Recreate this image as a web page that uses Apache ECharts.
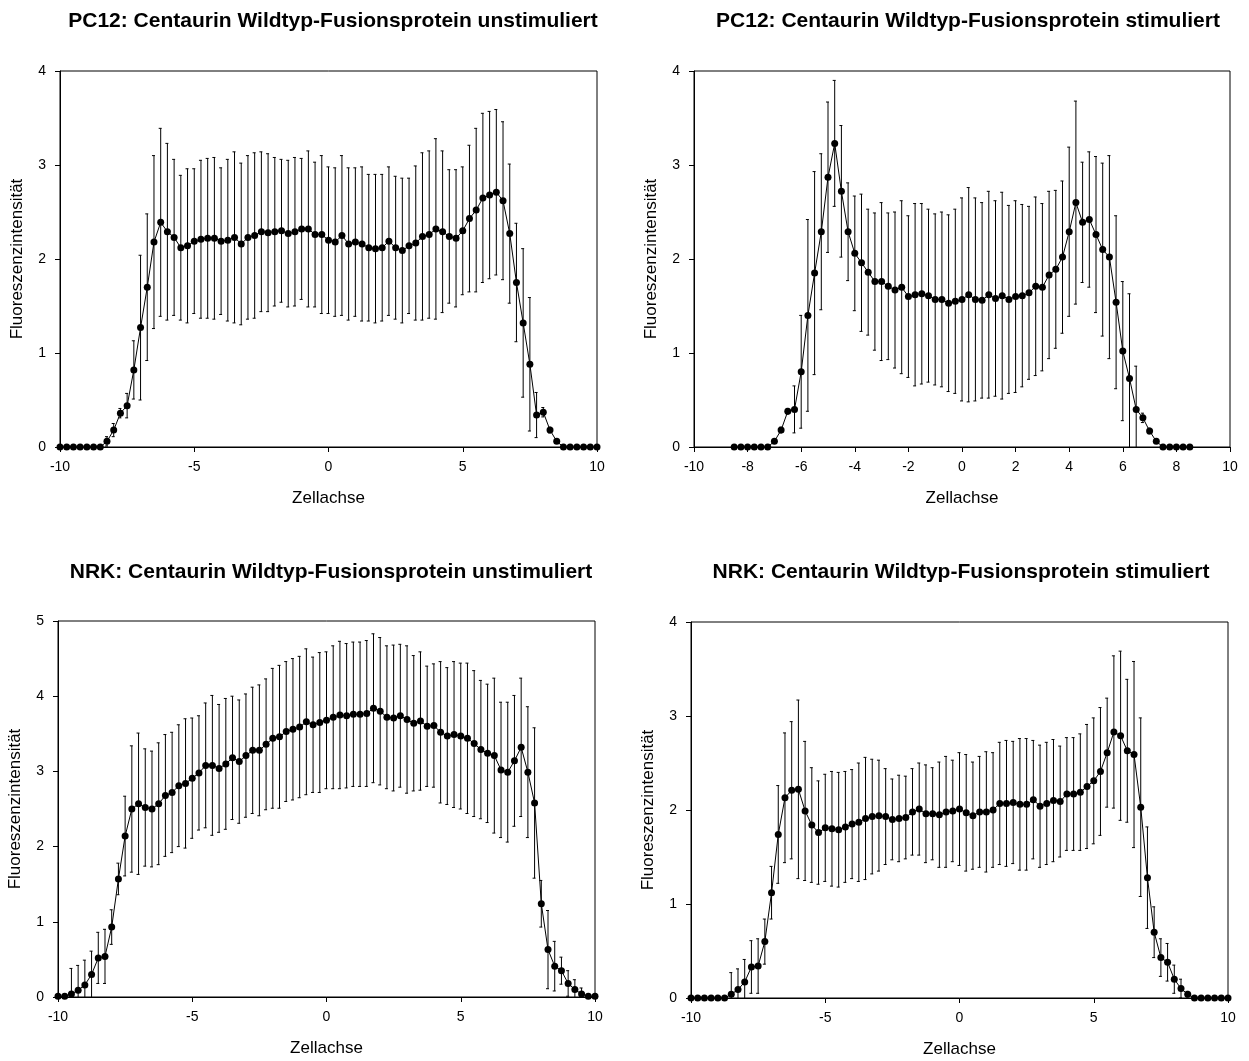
<!DOCTYPE html>
<html>
<head>
<meta charset="utf-8">
<script src="https://cdn.jsdelivr.net/npm/echarts@6/dist/echarts.min.js"></script>
<style>
html,body{margin:0;padding:0;background:#fff;}
#chart{width:1249px;height:1061px;}
</style>
</head>
<body>
<div id="chart"></div>
<script>
// ---------- DATA ----------
const titles = [
  "PC12: Centaurin Wildtyp-Fusionsprotein unstimuliert",
  "PC12: Centaurin Wildtyp-Fusionsprotein stimuliert",
  "NRK: Centaurin Wildtyp-Fusionsprotein unstimuliert",
  "NRK: Centaurin Wildtyp-Fusionsprotein stimuliert"
];
const xAxisName = "Zellachse";
const yAxisName = "Fluoreszenzintensität";

// x positions (Zellachse)
const xFull = [-10,-9.75,-9.5,-9.25,-9,-8.75,-8.5,-8.25,-8,-7.75,-7.5,-7.25,-7,-6.75,-6.5,-6.25,-6,-5.75,-5.5,-5.25,
  -5,-4.75,-4.5,-4.25,-4,-3.75,-3.5,-3.25,-3,-2.75,-2.5,-2.25,-2,-1.75,-1.5,-1.25,-1,-0.75,-0.5,-0.25,
  0,0.25,0.5,0.75,1,1.25,1.5,1.75,2,2.25,2.5,2.75,3,3.25,3.5,3.75,4,4.25,4.5,4.75,
  5,5.25,5.5,5.75,6,6.25,6.5,6.75,7,7.25,7.5,7.75,8,8.25,8.5,8.75,9,9.25,9.5,9.75,10];
const xP2 = [-8.5,-8.25,-8,-7.75,-7.5,-7.25,-7,-6.75,-6.5,-6.25,-6,-5.75,-5.5,-5.25,
  -5,-4.75,-4.5,-4.25,-4,-3.75,-3.5,-3.25,-3,-2.75,-2.5,-2.25,-2,-1.75,-1.5,-1.25,-1,-0.75,-0.5,-0.25,
  0,0.25,0.5,0.75,1,1.25,1.5,1.75,2,2.25,2.5,2.75,3,3.25,3.5,3.75,4,4.25,4.5,4.75,
  5,5.25,5.5,5.75,6,6.25,6.5,6.75,7,7.25,7.5,7.75,8,8.25,8.5];

// Panel 1: PC12 unstimuliert
const pc12UnstMean = [0,0,0,0,0,0,0,0.06,0.18,0.36,0.44,0.82,1.27,1.70,2.18,2.39,2.29,2.23,2.12,2.14,
  2.19,2.21,2.22,2.22,2.19,2.20,2.23,2.16,2.23,2.25,2.29,2.28,2.29,2.30,2.27,2.29,2.32,2.32,2.26,2.26,
  2.20,2.18,2.25,2.16,2.18,2.16,2.12,2.11,2.12,2.19,2.12,2.09,2.14,2.17,2.24,2.26,2.32,2.29,2.24,2.22,
  2.30,2.43,2.52,2.65,2.68,2.71,2.62,2.27,1.75,1.32,0.88,0.34,0.37,0.18,0.06,0,0,0,0,0,0];
const pc12UnstErr = [0,0,0,0,0,0,0,0.05,0.07,0.05,0.13,0.31,0.77,0.78,0.92,1.00,0.94,0.83,0.77,0.82,
  0.77,0.84,0.85,0.86,0.78,0.86,0.91,0.86,0.87,0.88,0.85,0.84,0.79,0.76,0.78,0.79,0.75,0.83,0.77,0.84,
  0.78,0.79,0.85,0.81,0.79,0.82,0.78,0.79,0.78,0.79,0.76,0.77,0.72,0.82,0.89,0.89,0.96,0.86,0.71,0.73,
  0.68,0.78,0.87,0.90,0.89,0.88,0.84,0.74,0.63,0.79,0.71,0.24,0.05,0.03,0.02,0,0,0,0,0,0];

// Panel 2: PC12 stimuliert
const pc12StimMean = [0,0,0,0,0,0,0.06,0.18,0.38,0.40,0.80,1.40,1.85,2.29,
  2.87,3.23,2.72,2.29,2.06,1.96,1.86,1.76,1.76,1.71,1.67,1.70,1.60,1.62,1.63,1.61,1.57,1.57,1.53,1.55,
  1.57,1.62,1.57,1.56,1.62,1.58,1.61,1.57,1.60,1.61,1.64,1.71,1.70,1.83,1.89,2.02,2.29,2.60,2.39,2.42,
  2.26,2.10,2.02,1.54,1.02,0.73,0.40,0.31,0.17,0.06,0,0,0,0,0];
const pc12StimErr = [0,0,0,0,0,0,0.02,0.03,0.03,0.25,0.60,1.02,1.08,0.83,
  0.80,0.67,0.70,0.52,0.61,0.73,0.67,0.73,0.84,0.78,0.83,0.92,0.86,0.97,0.96,0.92,0.91,0.93,0.94,0.98,
  1.08,1.14,1.08,1.04,1.10,1.04,1.10,1.00,1.02,0.97,0.92,0.95,0.89,0.89,0.84,0.81,0.90,1.08,0.64,0.72,
  0.83,0.92,1.08,0.92,0.74,0.90,0.46,0.05,0.03,0.02,0,0,0,0,0];

// Panel 3: NRK unstimuliert
const nrkUnstMean = [0.01,0.01,0.04,0.09,0.16,0.30,0.52,0.54,0.93,1.57,2.14,2.50,2.57,2.52,2.50,2.57,2.68,2.72,2.81,2.84,
  2.91,2.98,3.08,3.08,3.04,3.10,3.18,3.13,3.21,3.28,3.28,3.36,3.44,3.46,3.53,3.56,3.59,3.66,3.62,3.65,
  3.68,3.72,3.75,3.74,3.76,3.76,3.77,3.84,3.80,3.72,3.71,3.74,3.69,3.64,3.67,3.60,3.61,3.52,3.47,3.49,
  3.47,3.44,3.37,3.29,3.24,3.21,3.02,2.99,3.14,3.32,2.99,2.58,1.24,0.63,0.41,0.35,0.18,0.10,0.04,0.01,0.01];
const nrkUnstErr = [0,0,0.34,0.33,0.33,0.31,0.34,0.36,0.23,0.21,0.53,0.84,0.94,0.78,0.77,0.81,0.81,0.80,0.81,0.86,
  0.80,0.76,0.83,0.93,0.85,0.87,0.82,0.82,0.82,0.84,0.87,0.87,0.93,0.95,0.93,0.94,0.94,0.97,0.90,0.93,
  0.91,0.95,0.98,0.96,0.96,0.96,0.97,0.99,0.98,0.95,0.97,0.95,0.98,0.90,0.92,0.80,0.82,0.94,0.91,0.97,
  0.97,1.00,0.97,0.92,0.92,1.03,0.90,0.93,0.87,0.92,0.87,1.00,0.31,0.52,0.33,0.18,0.17,0.13,0.08,0.02,0];

// Panel 4: NRK stimuliert
const nrkStimMean = [0,0,0,0,0,0,0.04,0.09,0.17,0.33,0.34,0.60,1.12,1.74,2.13,2.21,2.22,1.99,1.84,1.76,
  1.81,1.80,1.79,1.82,1.85,1.87,1.91,1.93,1.94,1.93,1.90,1.91,1.92,1.98,2.01,1.96,1.96,1.95,1.98,1.99,
  2.01,1.97,1.94,1.98,1.98,2.00,2.07,2.07,2.08,2.06,2.06,2.11,2.04,2.07,2.10,2.09,2.17,2.17,2.19,2.25,
  2.31,2.41,2.61,2.83,2.79,2.63,2.59,2.03,1.28,0.70,0.43,0.38,0.20,0.10,0.04,0,0,0,0,0,0];
const nrkStimErr = [0,0,0,0,0,0,0.23,0.22,0.24,0.28,0.29,0.24,0.28,0.52,0.69,0.73,0.95,0.74,0.61,0.55,
  0.57,0.61,0.61,0.59,0.58,0.63,0.65,0.61,0.59,0.51,0.43,0.46,0.44,0.46,0.49,0.52,0.49,0.56,0.59,0.54,
  0.60,0.62,0.57,0.59,0.64,0.61,0.65,0.67,0.65,0.70,0.70,0.63,0.65,0.65,0.65,0.59,0.60,0.60,0.62,0.66,
  0.67,0.68,0.58,0.81,0.90,0.76,0.99,0.95,0.54,0.27,0.20,0.20,0.15,0.10,0.03,0,0,0,0,0,0];

// axis ranges / ticks
const yMax = [4, 4, 5, 4];
const xInterval = [5, 2, 5, 5];

// ---------- LAYOUT ----------
const FONT = "'Liberation Sans', Arial, sans-serif";
const grids = [
  {left: 60,  top: 71,  width: 537, height: 376},
  {left: 694, top: 71,  width: 536, height: 376},
  {left: 58,  top: 621, width: 537, height: 376},
  {left: 691, top: 622, width: 537, height: 376}
];
const titlePos = [[333, 21], [968, 21], [331, 572], [961, 572]];

const panels = [
  {x: xFull, m: pc12UnstMean, e: pc12UnstErr},
  {x: xP2,   m: pc12StimMean, e: pc12StimErr},
  {x: xFull, m: nrkUnstMean,  e: nrkUnstErr},
  {x: xFull, m: nrkStimMean,  e: nrkStimErr}
];

const option = {
  animation: false,
  backgroundColor: '#fff',
  textStyle: {fontFamily: FONT},
  grid: grids.map(g => Object.assign({show: true, borderColor: '#000', borderWidth: 1, backgroundColor: 'transparent'}, g)),
  xAxis: grids.map((g, i) => ({
    type: 'value', gridIndex: i, min: -10, max: 10, interval: xInterval[i],
    name: xAxisName, nameLocation: 'middle', nameGap: 43,
    nameTextStyle: {fontSize: 17, color: '#000', fontFamily: FONT},
    axisLine: {show: true, onZero: false, lineStyle: {color: '#000', width: 1}},
    axisTick: {show: true, inside: false, length: 5, lineStyle: {color: '#000'}},
    axisLabel: {show: true, color: '#000', fontSize: 14, margin: 13, fontFamily: FONT},
    splitLine: {show: false}
  })),
  yAxis: grids.map((g, i) => ({
    type: 'value', gridIndex: i, min: 0, max: yMax[i], interval: 1,
    name: yAxisName, nameLocation: 'middle', nameGap: 34, nameRotate: 90,
    nameTextStyle: {fontSize: 17, color: '#000', fontFamily: FONT},
    axisLine: {show: true, onZero: false, lineStyle: {color: '#000', width: 1}},
    axisTick: {show: true, inside: false, length: 5, lineStyle: {color: '#000'}},
    axisLabel: {show: true, color: '#000', fontSize: 14, margin: 14, fontFamily: FONT},
    splitLine: {show: false}
  })),
  graphic: titles.map((t, i) => ({
    type: 'text', x: titlePos[i][0], y: titlePos[i][1],
    style: {text: t, textAlign: 'center', textVerticalAlign: 'middle',
      font: 'bold 21px ' + FONT, fill: '#000'}
  })),
  series: []
};

panels.forEach((p, i) => {
  option.series.push({
    type: 'custom', xAxisIndex: i, yAxisIndex: i, clip: true, z: 2,
    data: p.x.map((x, k) => [x, p.m[k], p.e[k]]),
    renderItem: function (params, api) {
      const x = api.value(0), m = api.value(1), e = api.value(2);
      if (!e) return null;
      const top = api.coord([x, m + e]);
      const bot = api.coord([x, m - e]);
      const st = {stroke: '#000', lineWidth: 1};
      return {
        type: 'group',
        children: [
          {type: 'line', shape: {x1: top[0], y1: top[1], x2: bot[0], y2: bot[1]}, style: st},
          {type: 'line', shape: {x1: top[0] - 2, y1: top[1], x2: top[0] + 1, y2: top[1]}, style: st},
          {type: 'line', shape: {x1: bot[0] - 2, y1: bot[1], x2: bot[0] + 1, y2: bot[1]}, style: st}
        ]
      };
    }
  });
  option.series.push({
    type: 'line', xAxisIndex: i, yAxisIndex: i, z: 3,
    data: p.x.map((x, k) => [x, p.m[k]]),
    symbol: 'circle', symbolSize: 7, showSymbol: true,
    lineStyle: {color: '#000', width: 1},
    itemStyle: {color: '#000'},
    emphasis: {disabled: true}
  });
});

const chart = echarts.init(document.getElementById('chart'), null, {renderer: 'canvas'});
chart.setOption(option);
</script>
</body>
</html>
